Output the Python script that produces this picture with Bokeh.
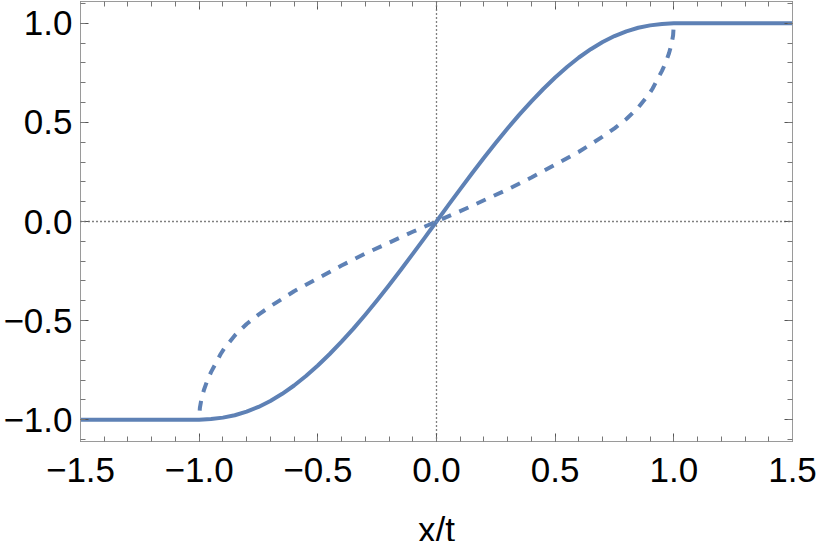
from bokeh.plotting import figure
from bokeh.models import Range1d, FixedTicker, LinearAxis, Span, Label
from bokeh.embed import file_html
from bokeh.resources import INLINE
from jinja2 import Template

# ---- data ----
solid_x = [-1.5, -1.0, -0.95, -0.9, -0.85, -0.8, -0.75, -0.7, -0.65, -0.6, -0.55,
           -0.5, -0.45, -0.4, -0.35, -0.3, -0.25, -0.2, -0.15, -0.1, -0.05, 0.0,
           0.05, 0.1, 0.15, 0.2, 0.25, 0.3, 0.35, 0.4, 0.45, 0.5, 0.55, 0.6, 0.65,
           0.7, 0.75, 0.8, 0.85, 0.9, 0.95, 1.0, 1.5]
solid_y = [-1.0, -1.0, -0.997, -0.9895, -0.9775, -0.9595, -0.9355, -0.9055, -0.8695, -0.8275, -0.7795,
           -0.7265, -0.6685, -0.6065, -0.5405, -0.4705, -0.3975, -0.3215, -0.2435, -0.1635, -0.0825, 0.0,
           0.0825, 0.1635, 0.2435, 0.3215, 0.3975, 0.4705, 0.5405, 0.6065, 0.6685, 0.7265, 0.7795, 0.8275, 0.8695,
           0.9055, 0.9355, 0.9595, 0.9775, 0.9895, 0.997, 1.0, 1.0]

dashed_x = [-1.0, -0.997, -0.99, -0.98, -0.965, -0.95, -0.935, -0.91, -0.895, -0.85, -0.8, -0.75,
            -0.7, -0.6, -0.5, -0.4, -0.3, -0.2, -0.1, 0.0, 0.1, 0.2, 0.3, 0.4, 0.5, 0.6, 0.7,
            0.75, 0.8, 0.85, 0.895, 0.91, 0.935, 0.95, 0.965, 0.98, 0.99, 0.997, 1.0]
dashed_y = [-1.0, -0.94, -0.893, -0.85, -0.80, -0.76, -0.726, -0.67, -0.642, -0.575, -0.517, -0.47,
            -0.428, -0.352, -0.287, -0.222, -0.162, -0.107, -0.052, 0.0, 0.052, 0.107, 0.162, 0.222, 0.287, 0.352, 0.428,
            0.47, 0.517, 0.575, 0.642, 0.67, 0.726, 0.76, 0.80, 0.85, 0.893, 0.94, 1.0]

x_ticks = [-1.5, -1.0, -0.5, 0.0, 0.5, 1.0, 1.5]
x_tick_labels = ["\u22121.5", "\u22121.0", "\u22120.5", "0.0", "0.5", "1.0", "1.5"]
x_minor = [round(-1.5 + 0.1 * i, 2) for i in range(31)]
y_ticks = [-1.0, -0.5, 0.0, 0.5, 1.0]
y_tick_labels = ["\u22121.0", "\u22120.5", "0.0", "0.5", "1.0"]
y_minor = [round(-1.1 + 0.1 * i, 2) for i in range(23)]
x_limits = (-1.5, 1.5)
y_limits = (-1.11, 1.11)
x_label = "x/t"

COLOR = "#5E81B5"
FONT = "Liberation Sans"

p = figure(width=817, height=541,
           x_range=Range1d(*x_limits), y_range=Range1d(*y_limits),
           output_backend="svg", toolbar_location=None,
           min_border_left=79, min_border_right=25, min_border_top=1, min_border_bottom=100)
p.grid.visible = False
p.outline_line_color = None
p.background_fill_color = "white"
p.border_fill_color = "white"


def style_axis(ax, ticks, minor, labels):
    ax.ticker = FixedTicker(ticks=ticks, minor_ticks=minor)
    ax.axis_line_color = "#9a9a9a"
    ax.axis_line_width = 1
    ax.major_tick_in = 8
    ax.major_tick_out = 0
    ax.minor_tick_in = 5
    ax.minor_tick_out = 0
    ax.major_tick_line_color = "#555555"
    ax.minor_tick_line_color = "#777777"
    ax.major_tick_line_width = 1
    ax.minor_tick_line_width = 1
    if labels is None:
        ax.major_label_overrides = {t: "" for t in ticks}
        ax.major_label_text_font_size = "1px"
        ax.major_label_standoff = 0
    else:
        ax.major_label_overrides = {t: s for t, s in zip(ticks, labels)}
        ax.major_label_text_font = FONT
        ax.major_label_text_font_size = "35px"
        ax.major_label_text_color = "black"


style_axis(p.xaxis[0], x_ticks, x_minor, x_tick_labels)
p.xaxis[0].major_label_standoff = 16

style_axis(p.yaxis[0], y_ticks, y_minor, y_tick_labels)
p.yaxis[0].major_label_standoff = 8

top = LinearAxis()
style_axis(top, x_ticks, x_minor, None)
p.add_layout(top, "above")
right = LinearAxis()
style_axis(right, y_ticks, y_minor, None)
p.add_layout(right, "right")

# axis title placed below the x tick labels (in the bottom panel, so not clipped)
p.add_layout(Label(x=0.0, y=y_limits[0], x_units="data", y_units="data",
                   y_offset=-68, text=x_label, text_align="center",
                   text_baseline="top", text_font=FONT,
                   text_font_size="35px", text_color="black"), "below")

p.add_layout(Span(location=0, dimension="width", line_color="black",
                  line_width=1.3, line_dash="1 3", level="underlay"))
p.add_layout(Span(location=0, dimension="height", line_color="black",
                  line_width=1.3, line_dash="1 3", level="underlay"))

p.line(solid_x, solid_y, line_color=COLOR, line_width=4, line_join="round")
p.line(dashed_x, dashed_y, line_color=COLOR, line_width=4, line_dash="10 9",
       line_dash_offset=10, line_cap="butt", line_join="round")

TEMPLATE = Template("""{% extends base %}
{% block preamble %}<style>html, body { margin: 0 !important; padding: 0 !important; overflow: hidden; }</style>{% endblock %}
""")

open("out.html", "w").write(file_html(p, INLINE, template=TEMPLATE))
